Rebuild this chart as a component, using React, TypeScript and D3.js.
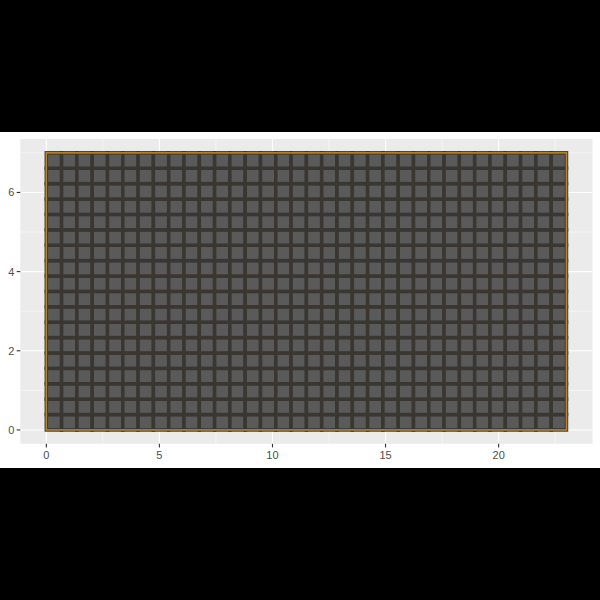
import { useRef, useEffect } from 'react';
import * as d3 from 'd3';

// grid of tiles
const nCols = 34;
const nRows = 18;
const xExtent = [0, 23];
const yExtent = [0, 7];
const xTicks = [0, 5, 10, 15, 20];
const yTicks = [0, 2, 4, 6];
const xMinor = [2.5, 7.5, 12.5, 17.5, 22.5];
const yMinor = [1, 3, 5, 7];

const W = 600;
const H = 600;
const plotTop = 132;
const plotBottom = 468;

const App = () => {
  const svgRef = useRef(null);

  useEffect(() => {
    const svg = d3.select(svgRef.current);
    svg.selectAll('*').remove();

    svg.append('rect').attr('width', W).attr('height', H).attr('fill', '#000');
    svg.append('rect').attr('y', plotTop).attr('width', W).attr('height', plotBottom - plotTop).attr('fill', '#fff');

    const panel = { left: 20.3, right: 592.5, top: 139, bottom: 443.8 };

    // 5% expansion like ggplot
    const xPad = (xExtent[1] - xExtent[0]) * 0.05;
    const yPad = (yExtent[1] - yExtent[0]) * 0.05;
    const x = d3.scaleLinear().domain([xExtent[0] - xPad, xExtent[1] + xPad]).range([panel.left, panel.right]);
    const y = d3.scaleLinear().domain([yExtent[0] - yPad, yExtent[1] + yPad]).range([panel.bottom, panel.top]);

    svg.append('rect')
      .attr('x', panel.left).attr('y', panel.top)
      .attr('width', panel.right - panel.left).attr('height', panel.bottom - panel.top)
      .attr('fill', '#ebebeb');

    const grid = svg.append('g');
    grid.selectAll('.xminor').data(xMinor).join('line')
      .attr('x1', (d) => x(d)).attr('x2', (d) => x(d))
      .attr('y1', panel.top).attr('y2', panel.bottom)
      .attr('stroke', '#fff').attr('stroke-width', 0.55);
    grid.selectAll('.yminor').data(yMinor).join('line')
      .attr('y1', (d) => y(d)).attr('y2', (d) => y(d))
      .attr('x1', panel.left).attr('x2', panel.right)
      .attr('stroke', '#fff').attr('stroke-width', 0.55);
    grid.selectAll('.xmajor').data(xTicks).join('line')
      .attr('x1', (d) => x(d)).attr('x2', (d) => x(d))
      .attr('y1', panel.top).attr('y2', panel.bottom)
      .attr('stroke', '#fff').attr('stroke-width', 1.1);
    grid.selectAll('.ymajor').data(yTicks).join('line')
      .attr('y1', (d) => y(d)).attr('y2', (d) => y(d))
      .attr('x1', panel.left).attr('x2', panel.right)
      .attr('stroke', '#fff').attr('stroke-width', 1.1);

    // tiles
    const cw = (xExtent[1] - xExtent[0]) / nCols;
    const ch = (yExtent[1] - yExtent[0]) / nRows;
    const cells = [];
    for (let i = 0; i < nCols; i++) {
      for (let j = 0; j < nRows; j++) {
        cells.push({ x0: xExtent[0] + i * cw, y0: yExtent[0] + j * ch });
      }
    }
    svg.append('g').selectAll('rect').data(cells).join('rect')
      .attr('x', (d) => x(d.x0))
      .attr('y', (d) => y(d.y0 + ch))
      .attr('width', (d) => x(d.x0 + cw) - x(d.x0))
      .attr('height', (d) => y(d.y0) - y(d.y0 + ch))
      .attr('fill', '#5a5a5a')
      .attr('stroke', '#3a3632')
      .attr('stroke-width', 3.5);

    // outline
    svg.append('rect')
      .attr('x', x(xExtent[0])).attr('y', y(yExtent[1]))
      .attr('width', x(xExtent[1]) - x(xExtent[0]))
      .attr('height', y(yExtent[0]) - y(yExtent[1]))
      .attr('fill', 'none')
      .attr('stroke', '#b5862f')
      .attr('stroke-width', 1.6);

    // axes
    const axes = svg.append('g').style('font-family', 'Liberation Sans, Arial, sans-serif');
    axes.selectAll('.xt').data(xTicks).join('line')
      .attr('x1', (d) => x(d)).attr('x2', (d) => x(d))
      .attr('y1', panel.bottom).attr('y2', panel.bottom + 3.6)
      .attr('stroke', '#333').attr('stroke-width', 1.1);
    axes.selectAll('.xl').data(xTicks).join('text')
      .attr('x', (d) => x(d)).attr('y', panel.bottom + 15.5)
      .attr('text-anchor', 'middle')
      .style('font-size', '11px').attr('fill', '#4d4d4d')
      .text((d) => d);
    axes.selectAll('.yt').data(yTicks).join('line')
      .attr('y1', (d) => y(d)).attr('y2', (d) => y(d))
      .attr('x1', panel.left - 3.6).attr('x2', panel.left)
      .attr('stroke', '#333').attr('stroke-width', 1.1);
    axes.selectAll('.yl').data(yTicks).join('text')
      .attr('x', panel.left - 6).attr('y', (d) => y(d) + 4)
      .attr('text-anchor', 'end')
      .style('font-size', '11px').attr('fill', '#4d4d4d')
      .text((d) => d);
  }, []);

  return (
    <svg ref={svgRef} width={W} height={H} style={{ position: 'absolute', left: 0, top: 0, display: 'block' }} />
  );
};

export default App;
